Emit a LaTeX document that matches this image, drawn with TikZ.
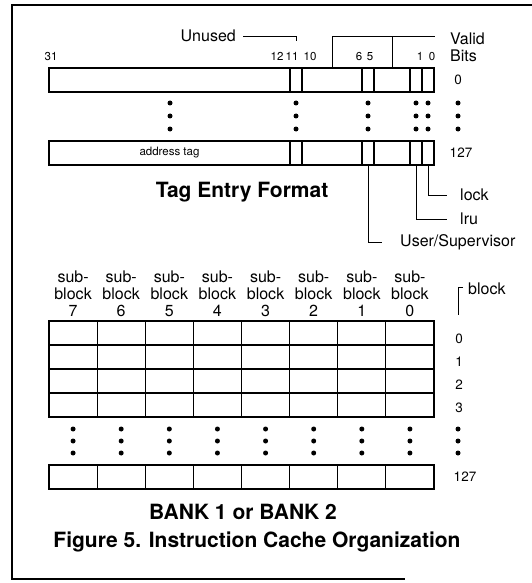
\documentclass[tikz,border=0pt]{standalone}
\usepackage{fontspec}
\setmainfont{TeX Gyre Heros}
\usetikzlibrary{positioning}

\begin{document}
\begin{tikzpicture}[x=1pt, y=-1pt,
		cell/.style={draw, line width=1.2pt, inner sep=0pt, minimum height=24pt},
		bcell/.style={cell, minimum width=48.125pt},
		bitno/.style={font=\fontsize{11.5}{12}\selectfont, inner sep=0pt},
		rowno/.style={font=\fontsize{13.5}{14}\selectfont, inner sep=0pt},
		lbl/.style={font=\fontsize{16}{17}\selectfont, inner sep=0pt},
		heading/.style={font=\fontsize{21}{23}\selectfont\bfseries, inner sep=0pt},
		leader/.style={line width=0.9pt}
	]
		\useasboundingbox (0,0) rectangle (532,583);
		\draw[line width=1.4pt] (532,5) -- (12,5) -- (12,579) -- (405,579);
		\foreach \r/\y in {0/80,127/153}
			\foreach \l/\rr/\n in {49/290/tag,290/302/un,302/362/va,362/374/us,374/410/vb,410/422/lru,422/434/lk} {
				\pgfmathsetmacro\w{\rr-\l}
				\node[cell, minimum width=\w pt] (\n\r) at ({(\l+\rr)/2},\y) {};
			}
		\node[bitno] (addr) at (tag127) {address tag};
		\foreach \b/\x in {31/51,12/277,11/292,10/310,6/359,5/370,1/420,0/432}
			\node[bitno, anchor=base] (bit\b) at (\x,61) {\b};
		\node[lbl, anchor=base west] (valid) at (450,45) {Valid};
		\node[lbl, anchor=base west] (bits) at (450,62) {Bits};
		\node[rowno] (tr0) at (458,80) {0};
		\node[rowno] (tr127) at (461,153) {127};
		\node[lbl, anchor=east] (unused) at (236,36) {Unused};
		\coordinate (untip) at (296,41);
		\draw[leader] ([xshift=7pt]unused.east) -| (untip);
		\coordinate (vtop) at (435,36);
		\draw[leader] (va0.north) |- (vtop);
		\draw[leader] (vb0.north) -- (vb0.north |- vtop);
		\foreach \x in {170,296,368,416,428,458}
			\foreach \y in {103,116,129}
				\fill (\x,\y) circle (2.5pt);
		\node[lbl, anchor=west] (lock) at (460,195) {lock};
		\node[lbl, anchor=west] (lru) at (460,219) {lru};
		\node[lbl, anchor=west] (user) at (400,242) {User/Supervisor};
		\draw[leader] (lk127.south) |- ([xshift=-13pt]lock.west);
		\draw[leader] (lru127.south) |- ([xshift=-13pt]lru.west);
		\draw[leader] (us127.south) |- ([xshift=-18pt]user.west);
		\node[heading] (tagfmt) at (242,192) {Tag Entry Format};
		\foreach \i in {0,...,7} {
			\pgfmathtruncatemacro\s{7-\i}
			\pgfmathsetmacro\cx{49+48.125*\i+24.0625}
			\node[lbl, align=center] (sb\s) at (\cx,294) {sub-\\block\\\s};
			\foreach \j in {0,...,3}
				\node[bcell] (b\s-\j) at (\cx,{333+24*\j}) {};
			\node[bcell] (b\s-127) at (\cx,477) {};
			\foreach \y in {429,441,453}
				\fill (\cx,\y) circle (2.5pt);
		}
		\foreach \j in {0,...,3}
			\node[rowno] (br\j) at (459,{339+23*\j}) {\j};
		\foreach \y in {429,441,453}
			\fill (458,\y) circle (2.5pt);
		\node[rowno] (br127) at (465,477) {127};
		\node[lbl, anchor=west] (blk) at (468,289) {block};
		\coordinate (brbot) at (458,315);
		\draw[leader] ([xshift=-5pt,yshift=2pt]blk.west) -| (brbot);
		\node[heading] (bank) at (243,512) {BANK 1 or BANK 2};
		\node[heading] (caption) at (257,542) {Figure 5. Instruction Cache Organization};
	\end{tikzpicture}
\end{document}
